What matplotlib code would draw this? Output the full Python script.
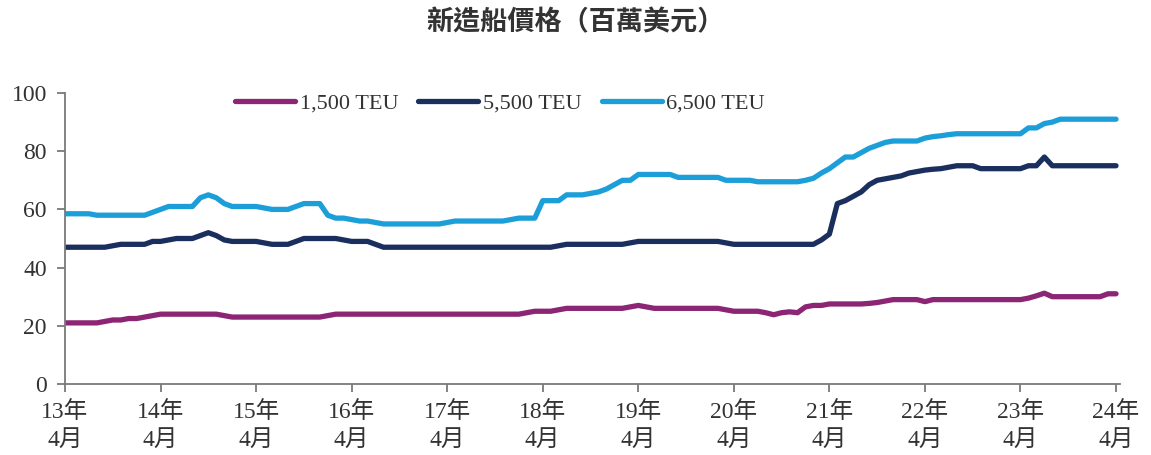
#!/usr/bin/env python3
"""新造船價格 (百萬美元): monthly newbuild prices, Apr 2013 - Apr 2024."""
import numpy as np
import matplotlib
matplotlib.use("Agg")
import matplotlib.pyplot as plt

# monthly values, one row per 12 months starting 2013-04
teu_1500 = [
    21, 21, 21, 21, 21, 21.5, 22, 22, 22.5, 22.5, 23, 23.5,
    24, 24, 24, 24, 24, 24, 24, 24, 23.5, 23, 23, 23,
    23, 23, 23, 23, 23, 23, 23, 23, 23, 23.5, 24, 24,
    24, 24, 24, 24, 24, 24, 24, 24, 24, 24, 24, 24,
    24, 24, 24, 24, 24, 24, 24, 24, 24, 24, 24.5, 25,
    25, 25, 25.5, 26, 26, 26, 26, 26, 26, 26, 26, 26.5,
    27, 26.5, 26, 26, 26, 26, 26, 26, 26, 26, 26, 25.5,
    25, 25, 25, 25, 24.5, 23.8, 24.5, 24.8, 24.5, 26.5, 27, 27,
    27.5, 27.5, 27.5, 27.5, 27.5, 27.7, 28, 28.5, 29, 29, 29, 29,
    28.3, 29, 29, 29, 29, 29, 29, 29, 29, 29, 29, 29,
    29, 29.5, 30.3, 31.2, 30, 30, 30, 30, 30, 30, 30, 31,
    31,
]
teu_5500 = [
    47, 47, 47, 47, 47, 47, 47.5, 48, 48, 48, 48, 49,
    49, 49.5, 50, 50, 50, 51, 52, 51, 49.5, 49, 49, 49,
    49, 48.5, 48, 48, 48, 49, 50, 50, 50, 50, 50, 49.5,
    49, 49, 49, 48, 47, 47, 47, 47, 47, 47, 47, 47,
    47, 47, 47, 47, 47, 47, 47, 47, 47, 47, 47, 47,
    47, 47, 47.5, 48, 48, 48, 48, 48, 48, 48, 48, 48.5,
    49, 49, 49, 49, 49, 49, 49, 49, 49, 49, 49, 48.5,
    48, 48, 48, 48, 48, 48, 48, 48, 48, 48, 48, 49.5,
    51.5, 62, 63, 64.5, 66, 68.5, 70, 70.5, 71, 71.5, 72.5, 73,
    73.5, 73.8, 74, 74.5, 75, 75, 75, 74, 74, 74, 74, 74,
    74, 75, 75, 78, 75, 75, 75, 75, 75, 75, 75, 75,
    75,
]
teu_6500 = [
    58.5, 58.5, 58.5, 58.5, 58, 58, 58, 58, 58, 58, 58, 59,
    60, 61, 61, 61, 61, 64, 65, 64, 62, 61, 61, 61,
    61, 60.5, 60, 60, 60, 61, 62, 62, 62, 58, 57, 57,
    56.5, 56, 56, 55.5, 55, 55, 55, 55, 55, 55, 55, 55,
    55.5, 56, 56, 56, 56, 56, 56, 56, 56.5, 57, 57, 57,
    63, 63, 63, 65, 65, 65, 65.5, 66, 67, 68.5, 70, 70,
    72, 72, 72, 72, 72, 71, 71, 71, 71, 71, 71, 70,
    70, 70, 70, 69.5, 69.5, 69.5, 69.5, 69.5, 69.5, 70, 70.7, 72.5,
    74, 76, 78, 78, 79.5, 81, 82, 83, 83.5, 83.5, 83.5, 83.5,
    84.5, 85, 85.3, 85.7, 86, 86, 86, 86, 86, 86, 86, 86,
    86, 88, 88, 89.5, 90, 91, 91, 91, 91, 91, 91, 91,
    91,
]
series_names = ["1,500 TEU", "5,500 TEU", "6,500 TEU"]
tick_labels = [f"{y}年\n4月" for y in range(13, 25)]

colors = ["#8C2574", "#1B2F5E", "#1C9FD9"]
serif = ["Liberation Serif", "Noto Sans CJK TC"]

fig = plt.figure(figsize=(11.51, 4.55), dpi=100)
ax = fig.add_axes([65 / 1151, 1 - 384 / 455, 1055 / 1151, 291 / 455])

x = np.arange(len(teu_1500))
for vals, name, c in zip([teu_1500, teu_5500, teu_6500], series_names, colors):
    ax.plot(x, vals, color=c, lw=3.8, label=name, solid_capstyle="round",
            solid_joinstyle="round")

ax.set_xlim(0, 132.5)
ax.set_ylim(0, 100)
ax.set_yticks(range(0, 101, 20))
ax.set_xticks(range(0, 133, 12))
ax.set_xticklabels(tick_labels, linespacing=1.45)

for s in ["top", "right"]:
    ax.spines[s].set_visible(False)
for s in ["left", "bottom"]:
    ax.spines[s].set_color("#7a7a7a")
    ax.spines[s].set_linewidth(1.3)
ax.tick_params(axis="both", colors="#7a7a7a", length=6, width=1.3,
               labelcolor="#333333", labelsize=17)
ax.tick_params(axis="y", pad=7)
ax.tick_params(axis="x", pad=6)
for lab in ax.get_xticklabels() + ax.get_yticklabels():
    lab.set_family(serif)

leg = ax.legend(loc="center", bbox_to_anchor=(500 / 1151, 1 - 103 / 455),
                bbox_transform=fig.transFigure, ncol=3, frameon=False,
                handlelength=2.7, handletextpad=0.2, columnspacing=0.9,
                prop={"family": serif, "size": 16})
for t in leg.get_texts():
    t.set_color("#333333")

fig.text(0.5, 1 - 22 / 455, "新造船價格（百萬美元）", ha="center", va="center",
         fontsize=19.5, fontweight="bold", family="Noto Sans CJK TC", color="#333333")

plt.savefig("out.png", dpi=100)
